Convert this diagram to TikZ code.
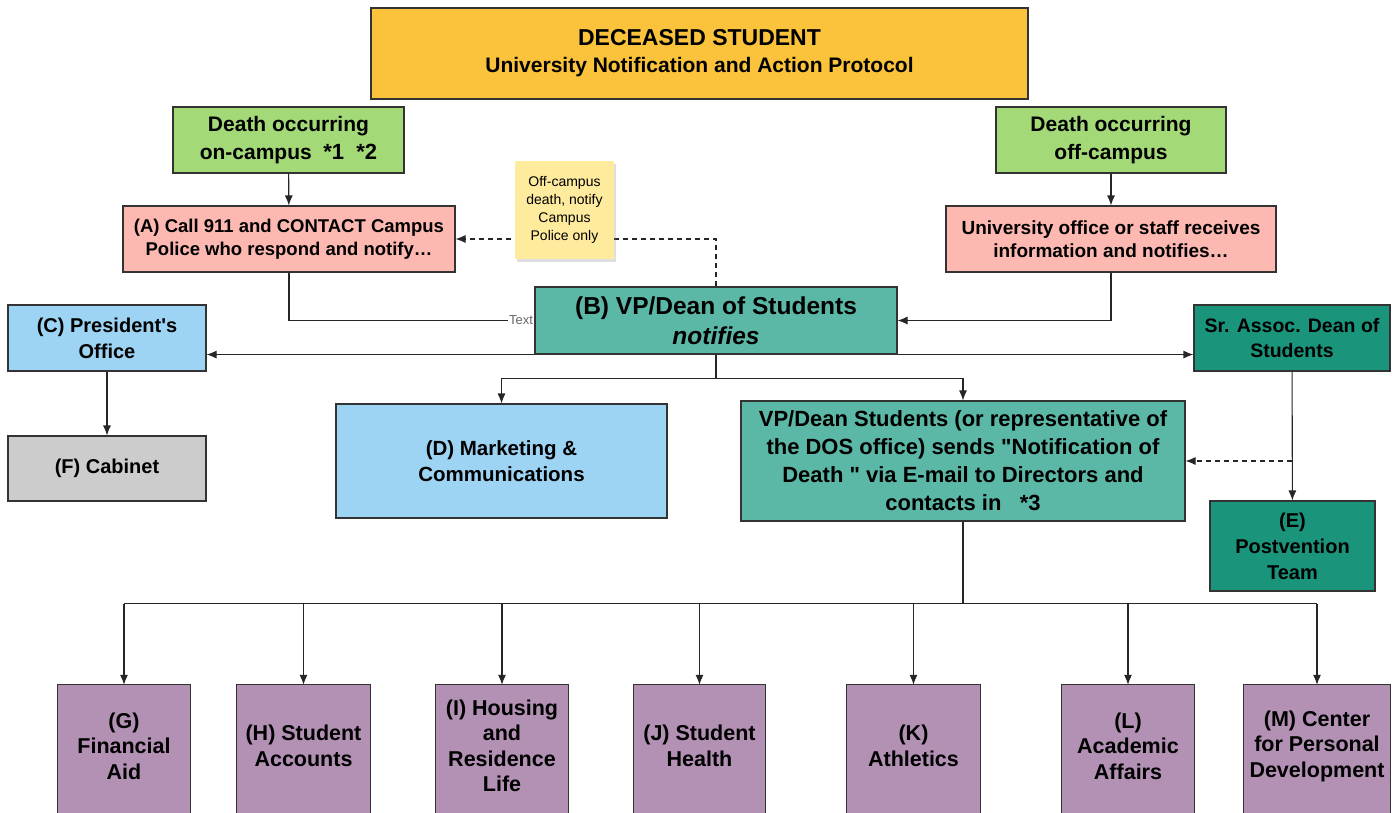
\documentclass[tikz,border=0pt]{standalone}
\usepackage{fontspec}
\setmainfont{Liberation Sans}
\newfontfamily\lucidfont{Liberation Sans}
\usetikzlibrary{arrows.meta,shadows,backgrounds}

\definecolor{titleyellow}{HTML}{FBC33C}
\definecolor{casegreen}{HTML}{A3D977}
\definecolor{callpink}{HTML}{FDB9B1}
\definecolor{noteyellow}{HTML}{FEEB9E}
\definecolor{deanteal}{HTML}{5CB8A6}
\definecolor{darkteal}{HTML}{1A957C}
\definecolor{officeblue}{HTML}{9DD3F3}
\definecolor{cabgray}{HTML}{CCCCCC}
\definecolor{deptpurple}{HTML}{B391B5}

\newcommand{\fsz}[2]{\lucidfont\fontsize{#1}{#2}\selectfont}

\tikzset{
  box/.style={draw=black!80, line width=1.1pt, align=center, inner sep=0pt,
    font=\bfseries\fsz{20}{26}},
  link/.style={line width=1.1pt, draw=black!85},
  dept/.style={align=center, inner sep=0pt, minimum height=122,
    font=\bfseries\fsz{21.5}{25.5}},
}

\begin{document}
\begin{tikzpicture}[x=1pt, y=-1pt, >={Latex[length=10pt,width=8pt]}]
    \clip (0,0) rectangle (1398,812);
    %% Heading
    \node[box, fill=titleyellow, minimum width=657, minimum height=91,
      font=\bfseries\fsz{21}{27}] (title) at (699.5,53.5)
      {{\fsz{23}{27}DECEASED STUDENT}\\University Notification and Action Protocol};
    %% Where it happened
    \node[box, fill=casegreen, minimum width=231, minimum height=66,
      font=\bfseries\fsz{21}{28}] (oncamp) at (288.5,140)
      {Death occurring\\on-campus~~{\fsz{22}{28}*1~~*2}};
    \node[box, fill=casegreen, minimum width=230, minimum height=66,
      font=\bfseries\fsz{21}{28}] (offcamp) at (1111,140)
      {Death occurring\\off-campus};
    \node[box, fill=callpink, minimum width=332, minimum height=66,
      font=\bfseries\fsz{18.5}{23}] (callA) at (289,239)
      {(A) Call 911 and CONTACT Campus\\Police who respond and notify\ldots};
    \node[box, fill=callpink, minimum width=330, minimum height=66,
      font=\bfseries\fsz{19}{23}] (univ) at (1111,239)
      {University office or staff receives\\information and notifies\ldots};
    %% Dean of Students
    \node[box, fill=deanteal, minimum width=362, minimum height=67,
      font=\bfseries\fsz{24.5}{30}] (vpB) at (716,320.5)
      {(B) VP/Dean of Students\\\textit{notifies}};
    \node[box, fill=officeblue, minimum width=198, minimum height=66] (pres)
      at (107,338) {(C) President's\\Office};
    \node[box, fill=darkteal, minimum width=196, minimum height=66,
      font=\bfseries\fsz{19.5}{25}] (sr) at (1292,338)
      {Sr. Assoc. Dean of\\Students};
    \node[box, fill=cabgray, minimum width=198, minimum height=65] (cab)
      at (107,468.5) {(F) Cabinet};
    \node[box, fill=officeblue, minimum width=331, minimum height=114,
      font=\bfseries\fsz{20.5}{26}] (mark) at (501.5,461)
      {(D) Marketing \&\\Communications};
    \node[box, fill=deanteal, minimum width=444, minimum height=120,
      font=\bfseries\fsz{22}{28}] (vp) at (963,461)
      {VP/Dean Students (or representative of\\the DOS office) sends "Notification of\\Death " via E-mail to Directors and\\contacts in~~~*3};
    \node[box, fill=darkteal, minimum width=165, minimum height=90] (post)
      at (1292.5,546) {(E)\\Postvention\\Team};
    %% Departments
    \node[dept, minimum width=132] (G) at (124,746) {(G)\\Financial\\Aid};
    \node[dept, minimum width=133] (H) at (303.5,746) {(H) Student\\Accounts};
    \node[dept, minimum width=132] (I) at (502,746) {(I) Housing\\and\\Residence\\Life};
    \node[dept, minimum width=131] (J) at (699.5,746) {(J) Student\\Health};
    \node[dept, minimum width=133] (K) at (913.5,746) {(K)\\Athletics};
    \node[dept, minimum width=132] (L) at (1128,746) {(L)\\Academic\\Affairs};
    \node[dept, minimum width=147] (M) at (1317,746) {(M) Center\\for Personal\\Development};
    \begin{scope}[on background layer]
      \foreach \d in {G,H,I,J,K,L,M}
        \draw[draw=black!80, line width=1.1pt, fill=deptpurple]
          (\d.north west) rectangle ([yshift=-40pt]\d.south east);
    \end{scope}
    %% Connectors
    \draw[link,->] (oncamp) -- (callA);
    \draw[link,->] (offcamp) -- (univ);
    \draw[link,dash pattern=on 5pt off 4pt,->] (vpB.north) |- (callA.east);
    \draw[link] (callA.south) |- (vpB.west)
      node[pos=1, anchor=east, fill=white, inner sep=1pt, text=black!60,
        font=\fsz{13}{15}] (txt) {Text};
    \draw[link,->] (univ.south) |- (vpB.east);
    \draw[link,->] (vpB.south west) -- (vpB.south west -| pres.east);
    \draw[link,->] (vpB.south east) -- (vpB.south east -| sr.west);
    \draw[link,->] (vpB.south) -- ++(0,24) -| (mark.north);
    \draw[link,->] (vpB.south) -- ++(0,24) -| (vp.north);
    \draw[link,->] (pres) -- (cab);
    \draw[link,->] (sr) -- (post);
    \draw[link,dash pattern=on 5pt off 4pt,->] (sr.south |- vp.east) -- (vp.east);
    \draw[link] (vp.south) -- ++(0,82) coordinate (bus);
    \draw[link] (bus -| G.north) -- (bus -| M.north);
    \foreach \d in {G,H,I,J,K,L,M}
      \draw[link,->] (bus -| \d.north) -- (\d.north);
    %% Sticky note
    \node[fill=noteyellow, minimum width=99, minimum height=98, align=center,
      inner sep=0pt, font=\fsz{14}{18},
      drop shadow={shadow xshift=2pt, shadow yshift=-3pt, opacity=0.25}] (note)
      at (564.5,210) {Off-campus\\death, notify\\Campus\\Police only};
\end{tikzpicture}
\end{document}
